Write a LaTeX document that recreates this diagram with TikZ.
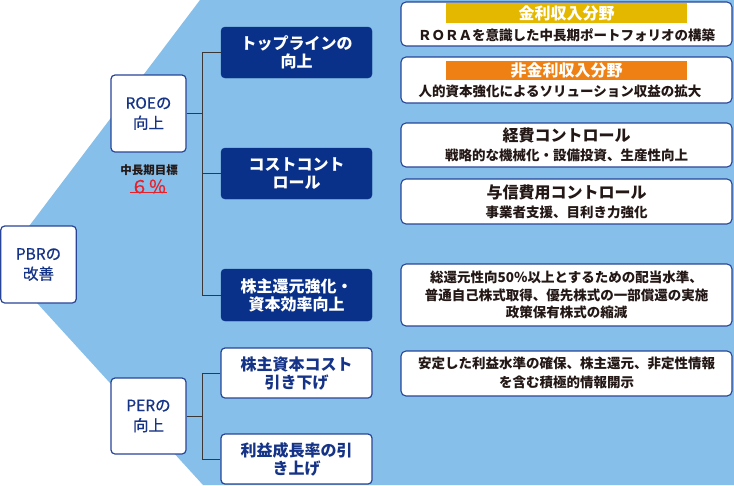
\documentclass[tikz,border=0pt]{standalone}
\usepackage{fontspec}
\usetikzlibrary{calc}
\setmainfont{Noto Sans CJK JP}
\newfontfamily\jpmed{Noto Sans CJK JP}[FakeBold=0.6]
\definecolor{bgblue}{RGB}{134,191,234}
\definecolor{darknavy}{RGB}{10,49,137}
\definecolor{navyline}{RGB}{40,68,150}
\definecolor{navytext}{RGB}{22,52,135}
\definecolor{connc}{RGB}{60,55,55}
\definecolor{goldbar}{RGB}{229,184,0}
\definecolor{orangebar}{RGB}{238,128,20}
\definecolor{darktext}{RGB}{35,24,21}
\definecolor{pctred}{RGB}{232,32,42}
\begin{document}
\begin{tikzpicture}[x=1pt,y=-1pt,
  wbox/.style={draw=navyline, line width=1.2pt, fill=white, rounded corners=4pt, inner sep=0pt, align=center, text=navytext},
  lvbox/.style={wbox, minimum width=75pt, minimum height=77pt, font=\jpmed\fontsize{15.5}{20}\selectfont},
  dbox/.style={fill=darknavy, draw=darknavy, rounded corners=4pt, inner sep=0pt, align=center, text=white, minimum width=151pt, minimum height=51pt, font=\bfseries\fontsize{16}{18}\selectfont},
  wsub/.style={wbox, minimum width=151pt, minimum height=50pt, font=\bfseries\fontsize{16}{18}\selectfont},
  rbox/.style={draw=navyline, line width=1.1pt, fill=white, rounded corners=5pt, minimum width=331pt, inner sep=0pt},
  bar/.style={minimum width=241pt, inner sep=0pt, text=white, font=\bfseries\fontsize{16}{18}\selectfont},
  rtitle/.style={text=darktext, inner sep=0pt, font=\bfseries\fontsize{16}{18}\selectfont},
  rtext/.style={text=darktext, inner sep=0pt, align=center, font=\bfseries\fontsize{13.5}{17.5}\selectfont},
  conn/.style={draw=connc, line width=0.9pt}]
\useasboundingbox (0,0) rectangle (734,485);
\fill[bgblue] (200,0) -- (734,0) -- (734,485) -- (203,485) -- (37,303) -- (37,250) -- (11,250) -- cycle;

% left column
\node[lvbox, minimum width=75.5pt] (pbr) at (38.5,264.5) {PBRの\\改善};
\node[lvbox] (roe) at (148.5,113.5) {ROEの\\向上};
\node[lvbox, minimum height=76pt] (per) at (148.5,416) {PERの\\向上};
\node[text=darktext, inner sep=0pt, font=\bfseries\fontsize{11.5}{13}\selectfont] (goal) at (149,170) {中長期目標};
\node[text=pctred, inner sep=0pt, font=\jpmed\fontsize{18}{20}\selectfont] (pct) at (148.5,186.5) {６％};
\draw[pctred, line width=1.2pt] ([xshift=-0.5pt,yshift=1pt]pct.south west) -- ([xshift=0.5pt,yshift=1pt]pct.south east);

% middle column
\node[dbox] (d1) at (296.5,52.5) {トップラインの\\向上};
\node[dbox] (d2) at (296.5,173.5) {コストコント\\ロール};
\node[dbox, minimum height=52pt] (d3) at (296.5,295) {株主還元強化・\\資本効率向上};
\node[wsub] (w1) at (296.5,373) {株主資本コスト\\引き下げ};
\node[wsub] (w2) at (296.5,459) {利益成長率の引\\き上げ};

% connectors
\coordinate (roej) at ($(roe.east)+(16,0)$);
\coordinate (perj) at ($(per.east)+(16,0)$);
\draw[conn] (roe.east) -- (roej);
\draw[conn] (roej) |- (d1.west);
\draw[conn] (roej) |- (d2.west);
\draw[conn] (roej) |- (d3.west);
\draw[conn] (per.east) -- (perj);
\draw[conn] (perj) |- (w1.west);
\draw[conn] (perj) |- (w2.west);

% right column
\node[rbox, minimum height=44pt] (r1) at (566.5,24) {};
\node[bar, fill=goldbar, minimum height=20pt] (b1) at (566.5,13) {金利収入分野};
\node[rtext] (t1) at (566.5,35) {ＲＯＲＡを意識した中長期ポートフォリオの構築};

\node[rbox, minimum height=46pt] (r2) at (566.5,80) {};
\node[bar, fill=orangebar, minimum height=19pt] (b2) at (566.5,70.5) {非金利収入分野};
\node[rtext] (t2) at (560,91) {人的資本強化によるソリューション収益の拡大};

\node[rbox, minimum height=44pt] (r3) at (566.5,145) {};
\node[rtitle] (h3) at (566.5,135) {経費コントロール};
\node[rtext] (t3) at (566.5,155.5) {戦略的な機械化・設備投資、生産性向上};

\node[rbox, minimum height=45pt] (r4) at (566.5,201.5) {};
\node[rtitle] (h4) at (566.5,192.5) {与信費用コントロール};
\node[rtext] (t4) at (566.5,212.5) {事業者支援、目利き力強化};

\node[rbox, minimum height=62pt] (r5) at (566.5,295) {};
\node[rtext] (t5) at (566.5,295) {総還元性向50％以上とするための配当水準、\\普通自己株式取得、優先株式の一部償還の実施\\政策保有株式の縮減};

\node[rbox, minimum height=45pt] (r6) at (566.5,373.5) {};
\node[rtext, font=\bfseries\fontsize{13.5}{19}\selectfont] (t6) at (566.5,372.5) {安定した利益水準の確保、株主還元、非定性情報\\を含む積極的情報開示};
\end{tikzpicture}
\end{document}
